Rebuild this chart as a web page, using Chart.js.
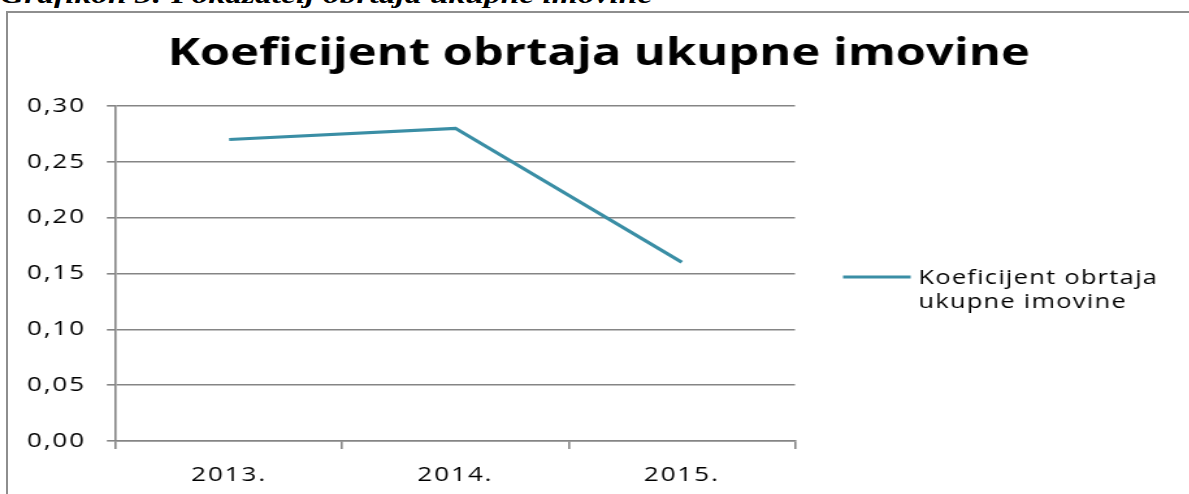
<!DOCTYPE html>
<html>
<head>
<meta charset="utf-8">
<script src="https://cdn.jsdelivr.net/npm/chart.js@4.4.1/dist/chart.umd.min.js"></script>
<style>
  html, body { margin: 0; padding: 0; background: #fff; overflow: hidden; }
  #wrap { position: relative; width: 1189px; height: 494px; overflow: hidden; }
  #caption {
    position: absolute; left: 0; top: -18px; white-space: nowrap;
    font: italic bold 25px/25px "Liberation Serif", serif; color: #000;
    transform: scaleX(1.34); transform-origin: 0 0;
  }
  #frame {
    position: absolute; left: 6px; top: 11px; width: 1200px; height: 500px;
    border: 2px solid #8e8e8e;
  }
  /* the original picture is stretched sideways, so is the canvas */
  canvas { position: absolute; left: 0; top: 0; transform: scaleX(1.3); transform-origin: 0 0; }
</style>
</head>
<body>
<div id="wrap">
  <div id="caption">Grafikon 3: Pokazatelj obrtaja ukupne imovine</div>
  <div id="frame"></div>
  <canvas id="turnoverChart" width="915" height="494"></canvas>
</div>
<script>
// data
const years = ['2013.', '2014.', '2015.'];
const turnover = [0.27, 0.28, 0.16];
const seriesName = 'Koeficijent obrtaja ukupne imovine';
const chartTitle = 'Koeficijent obrtaja ukupne imovine';

const lineColor = '#3A8EA5';
const gridColor = '#858585';
const font = '"Open Sans", sans-serif';

const spacing = {
    id: 'spacing',
    beforeLayout(chart) { chart.ctx.letterSpacing = '1.5px'; },
    beforeDraw(chart) { chart.ctx.letterSpacing = '1.5px'; }
};

function wrapText(ctx, text, maxWidth) {
    const words = text.split(' ');
    const lines = [];
    let cur = '';
    words.forEach(w => {
        const test = cur ? cur + ' ' + w : w;
        if (cur && ctx.measureText(test).width > maxWidth) {
            lines.push(cur);
            cur = w;
        } else {
            cur = test;
        }
    });
    if (cur) lines.push(cur);
    return lines;
}

// title + wrapped legend on the right
const decor = {
    id: 'decor',
    afterDraw(chart) {
        const ctx = chart.ctx;
        const area = chart.chartArea;
        ctx.save();
        ctx.fillStyle = '#000';
        ctx.letterSpacing = '0px';
        ctx.font = 'bold 37.6px ' + font;
        ctx.textAlign = 'center';
        ctx.textBaseline = 'alphabetic';
        ctx.fillText(chartTitle, chart.width / 2 + 3, 65);

        const ds = chart.data.datasets[0];
        const lx = area.right + 37;
        const ly = area.top + 171;
        ctx.strokeStyle = ds.borderColor;
        ctx.lineWidth = 3;
        ctx.beginPath();
        ctx.moveTo(lx, ly);
        ctx.lineTo(lx + 52, ly);
        ctx.stroke();

        ctx.letterSpacing = '1px';
        ctx.font = '19.5px ' + font;
        ctx.textAlign = 'left';
        const lines = wrapText(ctx, ds.label, 200);
        lines.forEach((ln, i) => {
            ctx.fillText(ln, lx + 58, ly + 7 + i * 24);
        });
        ctx.restore();
    }
};

new Chart(document.getElementById('turnoverChart'), {
    type: 'line',
    data: {
        labels: years,
        datasets: [{
            label: seriesName,
            data: turnover,
            borderColor: lineColor,
            borderWidth: 3.2,
            pointRadius: 0,
            tension: 0,
            fill: false
        }]
    },
    options: {
        responsive: false,
        animation: false,
        layout: { padding: { top: 106, right: 303.5, bottom: 0, left: 0 } },
        plugins: {
            legend: { display: false },
            title: { display: false },
            tooltip: { enabled: false }
        },
        scales: {
            x: {
                offset: true,
                grid: { offset: true, drawOnChartArea: false, tickLength: 8, color: gridColor, lineWidth: 1.6 },
                border: { color: gridColor, width: 1.6 },
                ticks: { color: '#000', font: { family: font, size: 20 }, padding: 14, maxRotation: 0 },
                afterFit(scale) { scale.height = 53; }
            },
            y: {
                min: 0,
                max: 0.3,
                grid: { tickLength: 7, color: gridColor, lineWidth: 1.6 },
                border: { color: gridColor, width: 1.6 },
                ticks: {
                    stepSize: 0.05,
                    color: '#000',
                    font: { family: font, size: 20 },
                    padding: 16,
                    callback: v => v.toFixed(2).replace('.', ',')
                },
                afterFit(scale) { scale.width = 89.2; }
            }
        }
    },
    plugins: [spacing, decor]
});
</script>
</body>
</html>
